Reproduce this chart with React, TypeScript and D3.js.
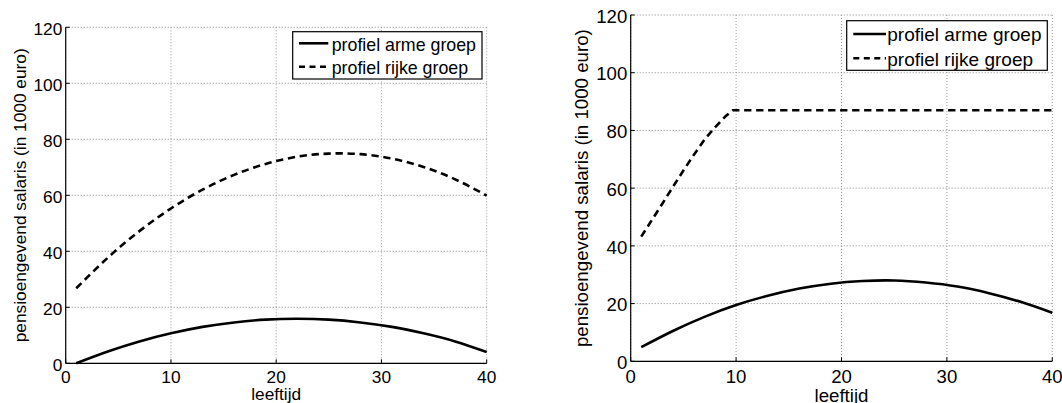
import React from "react";
import * as d3 from "d3";

// ---- data ----
const ages = [1, 4, 7, 10, 13, 16, 19, 22, 25, 28, 31, 34, 37, 40];
const leftPoor = [0, 4.2, 7.8, 10.7, 13.0, 14.6, 15.6, 15.9, 15.6, 14.6, 13.0, 10.7, 7.8, 4.0];
const leftRich = [26.8, 37.7, 47.2, 55.3, 62.0, 67.3, 71.2, 73.8, 74.9, 74.7, 73.1, 70.1, 65.7, 59.9];
const rightPoor = [4.9, 10.5, 15.4, 19.5, 22.7, 25.2, 26.9, 27.8, 28.0, 27.3, 25.9, 23.6, 20.6, 16.8];
const rightRichAges = [1, 2, 3, 4, 5, 6, 7, 8, 9, 9.7, 15, 20, 25, 30, 35, 40];
const rightRich = [43.2, 48.9, 54.6, 60.4, 66.1, 71.6, 76.8, 81.1, 84.9, 87, 87, 87, 87, 87, 87, 87];

const xTicks = [0, 10, 20, 30, 40];
const yTicks = [0, 20, 40, 60, 80, 100, 120];
const legendLabels = ["profiel arme groep", "profiel rijke groep"];
const xLabel = "leeftijd";
const yLabel = "pensioengevend salaris (in 1000 euro)";

const FONT = "'Liberation Sans', Arial, Helvetica, sans-serif";
const DASH = "7.3 4.7";

type Series = { xs: number[]; ys: number[]; dashed: boolean; curve: d3.CurveFactory };

type PanelProps = {
  x0: number; x1: number; y0: number; y1: number; // plot box: left, right, top(120), bottom(0)
  tickFs: number; legFs: number; labelFs: number;
  yLabelX: number; xLabelY: number; xTickY: number;
  legend: { x0: number; x1: number; y0: number; y1: number; lx0: number; lx1: number; rows: number[]; tx: number };
  series: Series[];
};

function Panel(p: PanelProps) {
  const xs = d3.scaleLinear().domain([0, 40]).range([p.x0, p.x1]);
  const ys = d3.scaleLinear().domain([0, 120]).range([p.y1, p.y0]);
  const cy = (p.y0 + p.y1) / 2;
  const cx = (p.x0 + p.x1) / 2;
  return (
    <g>
      {/* grid */}
      {xTicks.map((t) => (
        <line key={"gx" + t} x1={xs(t)} x2={xs(t)} y1={p.y0} y2={p.y1} stroke="#999" strokeWidth={1} strokeDasharray="1 2" />
      ))}
      {yTicks.map((t) => (
        <line key={"gy" + t} x1={p.x0} x2={p.x1} y1={ys(t)} y2={ys(t)} stroke="#888" strokeWidth={1} strokeDasharray="1 2" />
      ))}
      {/* axes */}
      <line x1={p.x0} x2={p.x0} y1={p.y0} y2={p.y1} stroke="#000" strokeWidth={1.2} />
      <line x1={p.x0} x2={p.x1} y1={p.y1} y2={p.y1} stroke="#000" strokeWidth={1.2} />
      {xTicks.map((t) => (
        <g key={"tx" + t}>
          <line x1={xs(t)} x2={xs(t)} y1={p.y1} y2={p.y1 - 4} stroke="#000" strokeWidth={1} />
          <text x={xs(t)} y={p.xTickY} textAnchor="middle" fontSize={p.tickFs} fontFamily={FONT} fill="#000">{t}</text>
        </g>
      ))}
      {yTicks.map((t) => (
        <g key={"ty" + t}>
          <line x1={p.x0} x2={p.x0 + 4} y1={ys(t)} y2={ys(t)} stroke="#000" strokeWidth={1} />
          <text x={p.x0 - 3.4} y={ys(t) + 7.7} textAnchor="end" fontSize={p.tickFs} fontFamily={FONT} fill="#000">{t}</text>
        </g>
      ))}
      {/* labels */}
      <text x={cx} y={p.xLabelY} textAnchor="middle" fontSize={p.labelFs} fontFamily={FONT} fill="#000">{xLabel}</text>
      <text transform={`translate(${p.yLabelX},${cy}) rotate(-90)`} textAnchor="middle" fontSize={p.labelFs} fontFamily={FONT} fill="#000">{yLabel}</text>
      {/* series */}
      {p.series.map((s, i) => {
        const pts = s.xs.map((x, j) => [x, s.ys[j]] as [number, number]);
        const path = d3.line<[number, number]>().x((d) => xs(d[0])).y((d) => ys(d[1])).curve(s.curve)(pts) || "";
        return <path key={"s" + i} d={path} fill="none" stroke="#000" strokeWidth={2.6} strokeDasharray={s.dashed ? DASH : undefined} />;
      })}
      {/* legend */}
      <rect x={p.legend.x0} y={p.legend.y0} width={p.legend.x1 - p.legend.x0} height={p.legend.y1 - p.legend.y0} fill="#fff" stroke="#000" strokeWidth={1.2} />
      {legendLabels.map((lab, i) => (
        <g key={"l" + i}>
          <line x1={p.legend.lx0} x2={p.legend.lx1} y1={p.legend.rows[i]} y2={p.legend.rows[i]} stroke="#000" strokeWidth={2.6} strokeDasharray={i === 1 ? "6 4.5" : undefined} />
          <text x={p.legend.tx} y={p.legend.rows[i] + 7.3} fontSize={p.legFs} fontFamily={FONT} fill="#000">{lab}</text>
        </g>
      ))}
    </g>
  );
}

export default function App() {
  return (
    <svg width={1062} height={403} style={{ position: "absolute", left: 0, top: 0, background: "#fff" }}>
      <rect x={0} y={0} width={1062} height={403} fill="#fff" />
      <Panel
        x0={65.7} x1={486.7} y0={27.3} y1={363.3}
        tickFs={17.3} legFs={17.8} labelFs={17.3}
        yLabelX={25.5} xLabelY={400} xTickY={382.7}
        legend={{ x0: 292.7, x1: 482, y0: 31.7, y1: 79, lx0: 299, lx1: 328.3, rows: [43.3, 66.7], tx: 331.7 }}
        series={[
          { xs: ages, ys: leftPoor, dashed: false, curve: d3.curveNatural },
          { xs: ages, ys: leftRich, dashed: true, curve: d3.curveNatural },
        ]}
      />
      <Panel
        x0={630.7} x1={1052.3} y0={15} y1={361.3}
        tickFs={18.6} legFs={19} labelFs={18.7}
        yLabelX={587.5} xLabelY={402} xTickY={382.7}
        legend={{ x0: 846.7, x1: 1047.3, y0: 20.7, y1: 70.3, lx0: 853.3, lx1: 886, rows: [34, 58.3], tx: 887.3 }}
        series={[
          { xs: ages, ys: rightPoor, dashed: false, curve: d3.curveNatural },
          { xs: rightRichAges, ys: rightRich, dashed: true, curve: d3.curveLinear },
        ]}
      />
    </svg>
  );
}
